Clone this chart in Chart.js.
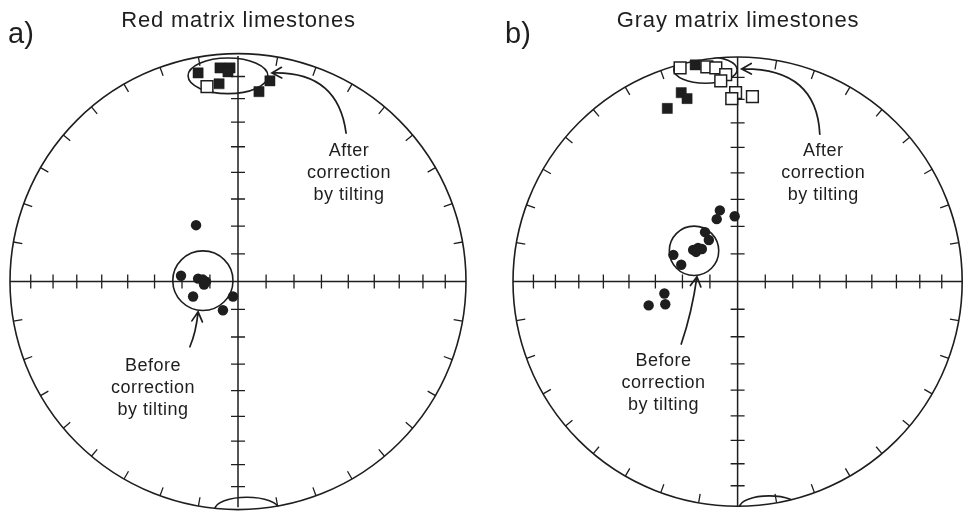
<!DOCTYPE html>
<html><head><meta charset="utf-8">
<script src="https://cdn.jsdelivr.net/npm/chart.js@4"></script>
<style>
html,body{margin:0;padding:0;background:#fff;}
#wrap{position:relative;width:972px;height:514px;overflow:hidden;}
canvas{position:absolute;top:0;}
#cL{left:0;} #cR{left:486px;}
</style></head><body>
<div id="wrap"><canvas id="cL" width="486" height="514"></canvas><canvas id="cR" width="486" height="514"></canvas></div>
<script>
// ---- data (equal-area projection coordinates, primitive circle radius = 1) ----
const panelTitles = ["Red matrix limestones", "Gray matrix limestones"];
const panelLabels = ["a)", "b)"];
const noteAfter = ["After", "correction", "by tilting"];
const noteBefore = ["Before", "correction", "by tilting"];

// Red matrix: after tilt correction (squares), before correction (dots)
const redAfterFilled = [[-0.175,0.925],[-0.079,0.947],[-0.035,0.947],[-0.044,0.930],[-0.083,0.877],[0.140,0.890],[0.092,0.842]];
const redAfterOpen = [[-0.136,0.864]];
const redBefore = [[-0.184,0.250],[-0.250,0.026],[-0.175,0.013],[-0.154,0.009],[-0.140,0.000],[-0.149,-0.013],[-0.197,-0.066],[-0.022,-0.066],[-0.066,-0.127]];

// Gray matrix
const grayAfterFilled = [[-0.189,0.965],[-0.251,0.841],[-0.225,0.815],[-0.313,0.771]];
const grayAfterOpen = [[-0.256,0.952],[-0.137,0.956],[-0.097,0.952],[-0.053,0.921],[-0.075,0.894],[-0.009,0.841],[-0.026,0.815],[0.066,0.824]];
const grayBefore = [[-0.079,0.317],[-0.093,0.278],[-0.013,0.291],[-0.145,0.220],[-0.128,0.185],[-0.198,0.141],[-0.176,0.150],[-0.159,0.145],[-0.185,0.132],[-0.286,0.119],[-0.251,0.075],[-0.326,-0.053],[-0.396,-0.106],[-0.322,-0.101]];

// confidence ellipses: [centerX, centerY, radiusX, radiusY]
const redEllipses = [[-0.044,0.912,0.175,0.079],[-0.154,0.004,0.132,0.132],[0.039,-1.009,0.140,0.053]];
const grayEllipses = [[-0.143,0.943,0.141,0.060],[-0.194,0.137,0.110,0.110],[0.141,-1.004,0.132,0.050]];

// tick marks of the net
const inclinationTicks = [10,20,30,40,50,60,70,80];
const azimuthTicks = [10,20,30,40,50,60,70,80,100,110,120,130,140,150,160,170,190,200,210,220,230,240,250,260,280,290,300,310,320,330,340,350];

// annotation anchors (data units): text [x, baseline y of first line], arrows [start, control, tip]
const redNotes = [{lines:noteAfter, x:0.487, y:0.557}, {lines:noteBefore, x:-0.373, y:-0.395}];
const redArrows = [[[0.474,0.658],[0.439,0.934],[0.149,0.925]], [[-0.211,-0.289],[-0.184,-0.224],[-0.175,-0.134]]];
const grayNotes = [{lines:noteAfter, x:0.381, y:0.559}, {lines:noteBefore, x:-0.330, y:-0.374}];
const grayArrows = [[[0.366,0.656],[0.352,0.952],[0.018,0.947]], [[-0.251,-0.278],[-0.203,-0.137],[-0.181,0.022]]];

const INK = '#1e1e1e';
const toPts = a => a.map(p => ({x:p[0], y:p[1]}));

const netPlugin = {
  id: 'net',
  beforeDatasetsDraw(chart, args, o) {
    const {ctx, scales:{x, y}} = chart;
    const cx = x.getPixelForValue(0), cy = y.getPixelForValue(0);
    const R = x.getPixelForValue(1) - cx;
    ctx.save();
    ctx.strokeStyle = INK;
    ctx.lineWidth = 1.6;
    ctx.beginPath(); ctx.arc(cx, cy, R, 0, Math.PI*2); ctx.stroke();
    ctx.lineWidth = 1.5;
    ctx.beginPath();
    ctx.moveTo(x.getPixelForValue(-1), cy); ctx.lineTo(x.getPixelForValue(1), cy);
    ctx.moveTo(cx, y.getPixelForValue(1)); ctx.lineTo(cx, y.getPixelForValue(-1));
    ctx.stroke();
    ctx.lineWidth = 1.3;
    ctx.beginPath();
    for (const inc of inclinationTicks) {
      const r = Math.SQRT2 * Math.sin((90 - inc) / 2 * Math.PI / 180);
      for (const s of [-1, 1]) {
        const px = x.getPixelForValue(s*r);
        ctx.moveTo(px, cy - 7); ctx.lineTo(px, cy + 7);
        const py = y.getPixelForValue(s*r);
        ctx.moveTo(cx - 7, py); ctx.lineTo(cx + 7, py);
      }
    }
    for (const az of azimuthTicks) {
      const a = az * Math.PI / 180;
      ctx.moveTo(cx + R*Math.sin(a), cy - R*Math.cos(a));
      ctx.lineTo(cx + (R-9)*Math.sin(a), cy - (R-9)*Math.cos(a));
    }
    ctx.stroke();
    // confidence ellipses, clipped to the primitive circle
    ctx.save();
    ctx.beginPath(); ctx.arc(cx, cy, R + 0.5, 0, Math.PI*2); ctx.clip();
    ctx.lineWidth = 1.6;
    for (const e of o.ellipses) {
      const ex = x.getPixelForValue(e[0]), ey = y.getPixelForValue(e[1]);
      const rx = x.getPixelForValue(e[0] + e[2]) - ex, ry = ey - y.getPixelForValue(e[1] + e[3]);
      ctx.beginPath(); ctx.ellipse(ex, ey, rx, ry, 0, 0, Math.PI*2); ctx.stroke();
    }
    ctx.restore();
    ctx.restore();
  },
  afterDraw(chart, args, o) {
    const {ctx, scales:{x, y}} = chart;
    const cx = x.getPixelForValue(0);
    ctx.save();
    ctx.fillStyle = INK;
    ctx.textBaseline = 'alphabetic';
    // title
    ctx.font = '22px "Liberation Sans", Arial, sans-serif';
    ctx.letterSpacing = '0.8px';
    ctx.textAlign = 'center';
    ctx.fillText(o.title, cx + 0.5, 27);
    // panel label
    ctx.font = '29px "Liberation Sans", Arial, sans-serif';
    ctx.letterSpacing = '0px';
    ctx.textAlign = 'left';
    ctx.fillText(o.label, o.labelX, 43);
    // notes
    ctx.font = '18px "Liberation Sans", Arial, sans-serif';
    ctx.letterSpacing = '0.5px';
    ctx.textAlign = 'center';
    for (const n of o.notes) {
      const px = x.getPixelForValue(n.x), py = y.getPixelForValue(n.y);
      n.lines.forEach((t, i) => ctx.fillText(t, px, py + i*22));
    }
    // arrows
    ctx.strokeStyle = INK;
    ctx.lineWidth = 1.7;
    ctx.lineCap = 'round';
    for (const a of o.arrows) {
      const P = a.map(p => [x.getPixelForValue(p[0]), y.getPixelForValue(p[1])]);
      ctx.beginPath();
      ctx.moveTo(P[0][0], P[0][1]);
      ctx.quadraticCurveTo(P[1][0], P[1][1], P[2][0], P[2][1]);
      const th = Math.atan2(P[2][1]-P[1][1], P[2][0]-P[1][0]);
      const L = 11, sp = 0.5;
      ctx.moveTo(P[2][0] - L*Math.cos(th - sp), P[2][1] - L*Math.sin(th - sp));
      ctx.lineTo(P[2][0], P[2][1]);
      ctx.lineTo(P[2][0] - L*Math.cos(th + sp), P[2][1] - L*Math.sin(th + sp));
      ctx.stroke();
    }
    ctx.restore();
  }
};

// padding fixes the plot box; yMin compensates Chart.js' minimum bottom margin so the net stays circular
function makeNet(id, padding, yMin, filled, open, dots, ell, notes, arrows, title, label, labelX) {
  new Chart(document.getElementById(id), {
    type: 'scatter',
    data: { datasets: [
      { data: toPts(dots), pointStyle: 'circle', pointRadius: 5.2, backgroundColor: INK, borderColor: INK, borderWidth: 0 },
      { data: toPts(filled), pointStyle: 'rect', pointRadius: 7.2, backgroundColor: INK, borderColor: INK, borderWidth: 0.5 },
      { data: toPts(open), pointStyle: 'rect', pointRadius: 8.3, backgroundColor: '#fff', borderColor: INK, borderWidth: 1.5 }
    ]},
    options: {
      responsive: false, animation: false, events: [],
      layout: { padding },
      scales: {
        x: { type: 'linear', min: -1, max: 1, display: false },
        y: { type: 'linear', min: yMin, max: 1, display: false }
      },
      plugins: {
        legend: { display: false }, tooltip: { enabled: false }, title: { display: false },
        net: { ellipses: ell, notes, arrows, title, label, labelX }
      }
    },
    plugins: [netPlugin]
  });
}

makeNet('cL', {left:10, right:20, top:56, bottom:5}, -0.98684, redAfterFilled, redAfterOpen, redBefore, redEllipses, redNotes, redArrows, panelTitles[0], panelLabels[0], 8);
makeNet('cR', {left:27, right:5, top:57, bottom:5}, -0.99119, grayAfterFilled, grayAfterOpen, grayBefore, grayEllipses, grayNotes, grayArrows, panelTitles[1], panelLabels[1], 19);
</script>
</body></html>
